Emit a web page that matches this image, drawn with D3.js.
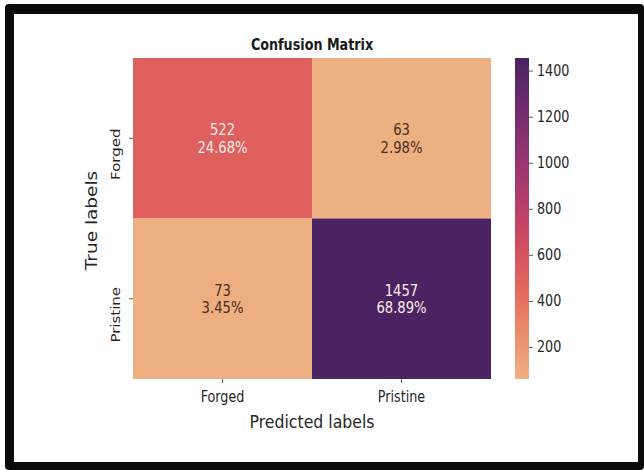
<!DOCTYPE html>
<html>
<head>
<meta charset="utf-8">
<script src="https://cdn.jsdelivr.net/npm/d3@7"></script>
<style>
  html, body { margin: 0; padding: 0; background: #fff; }
  svg { display: block; }
  text { font-family: "DejaVu Sans", sans-serif; fill: #262626; }
</style>
</head>
<body>
<svg id="chart" width="644" height="470"></svg>
<script>
// Confusion matrix values
const trueLabels = ["Forged", "Pristine"];
const predictedLabels = ["Forged", "Pristine"];
const counts = [
  [522, 63],
  [73, 1457]
];
const colorbarTicks = [200, 400, 600, 800, 1000, 1200, 1400];

const W = 644, H = 470;
const SX = 0.85; // horizontal text squeeze used throughout
const svg = d3.select("#chart");

// Frame around the figure
svg.append("rect").attr("x", 5).attr("y", 4).attr("width", W - 5).attr("height", H - 4)
  .attr("rx", 4).attr("fill", "#0b0b0b");
svg.append("rect").attr("x", 14).attr("y", 14).attr("width", 624).attr("height", 448)
  .attr("fill", "#ffffff");

const plot = { left: 133, right: 491, top: 58, bottom: 379 };
const cbar = { left: 515, right: 529 };

const x = d3.scaleBand().domain(predictedLabels).range([plot.left, plot.right]);
const y = d3.scaleBand().domain(trueLabels).range([plot.top, plot.bottom]);

const flat = counts.flat();
const total = d3.sum(flat);
const vmin = d3.min(flat), vmax = d3.max(flat);

// seaborn "flare" colormap, light to dark
const flare = d3.piecewise(d3.interpolateRgb, [
  "#edb081", "#e98d6b", "#e3685c", "#d14a61", "#b13c6c", "#8f3371", "#6c2b6d", "#4b2362"
]);
const color = d3.scaleSequential(flare).domain([vmin, vmax]);

function label(g, px, py, str, opts = {}) {
  const rot = opts.rotate ? ` rotate(${opts.rotate})` : "";
  return g.append("text")
    .attr("transform", `translate(${px},${py}) scale(${SX},1)${rot}`)
    .attr("text-anchor", opts.anchor || "middle")
    .attr("font-size", opts.size || 15)
    .attr("font-weight", opts.weight || "normal")
    .style("fill", opts.fill || "#262626")
    .text(str);
}

// Cells
const cells = [];
trueLabels.forEach((t, i) => predictedLabels.forEach((p, j) => {
  cells.push({ t, p, v: counts[i][j] });
}));

const g = svg.append("g");
g.selectAll("rect.cell").data(cells).join("rect")
  .attr("class", "cell")
  .attr("x", d => x(d.p))
  .attr("y", d => y(d.t))
  .attr("width", x.bandwidth())
  .attr("height", y.bandwidth())
  .attr("fill", d => color(d.v));

// Annotations: count and share of total
cells.forEach(d => {
  const cx = x(d.p) + x.bandwidth() / 2;
  const cy = y(d.t) + y.bandwidth() / 2;
  const fill = (d.v - vmin) / (vmax - vmin) > 0.2 ? "#fbeee8" : "#4a2e1e";
  label(g, cx, cy - 3, String(d.v), { size: 15.5, fill });
  label(g, cx, cy + 14.5, (d.v / total * 100).toFixed(2) + "%", { size: 15.5, fill });
});

// Axis ticks
const tickCol = "#333";
predictedLabels.forEach(p => {
  const cx = x(p) + x.bandwidth() / 2;
  g.append("line").attr("x1", cx).attr("x2", cx).attr("y1", plot.bottom).attr("y2", plot.bottom + 4)
    .attr("stroke", tickCol).attr("stroke-width", 0.8);
  label(g, cx, plot.bottom + 23, p, { size: 15 });
});
trueLabels.forEach(t => {
  const cy = y(t) + y.bandwidth() / 2;
  g.append("line").attr("x1", plot.left - 4).attr("x2", plot.left).attr("y1", cy).attr("y2", cy)
    .attr("stroke", tickCol).attr("stroke-width", 0.8);
  label(g, 120, cy + 16, t, { size: 15, rotate: -90 });
});

// Titles
label(g, (plot.left + plot.right) / 2, 50, "Confusion Matrix", { size: 15, weight: "bold", fill: "#1a1a1a" });
label(g, (plot.left + plot.right) / 2, 428, "Predicted labels", { size: 18.5 });
label(g, 97, (plot.top + plot.bottom) / 2 + 2, "True labels", { size: 18.5, rotate: -90 });

// Colorbar
const cy = d3.scaleLinear().domain([vmin, vmax]).range([plot.bottom, plot.top]);
const defs = svg.append("defs");
const grad = defs.append("linearGradient").attr("id", "cbar-grad")
  .attr("x1", 0).attr("y1", 1).attr("x2", 0).attr("y2", 0);
d3.range(0, 1.0001, 0.05).forEach(t => {
  grad.append("stop").attr("offset", t).attr("stop-color", flare(t));
});
svg.append("rect").attr("x", cbar.left).attr("y", plot.top)
  .attr("width", cbar.right - cbar.left).attr("height", plot.bottom - plot.top)
  .attr("fill", "url(#cbar-grad)");

const cAxis = svg.append("g").attr("transform", `translate(${cbar.right},0)`);
colorbarTicks.forEach(v => {
  cAxis.append("line").attr("x1", 0).attr("x2", 4).attr("y1", cy(v)).attr("y2", cy(v))
    .attr("stroke", tickCol).attr("stroke-width", 0.8);
  label(cAxis, 8, cy(v) + 5, String(v), { size: 15, anchor: "start" });
});
</script>
</body>
</html>
